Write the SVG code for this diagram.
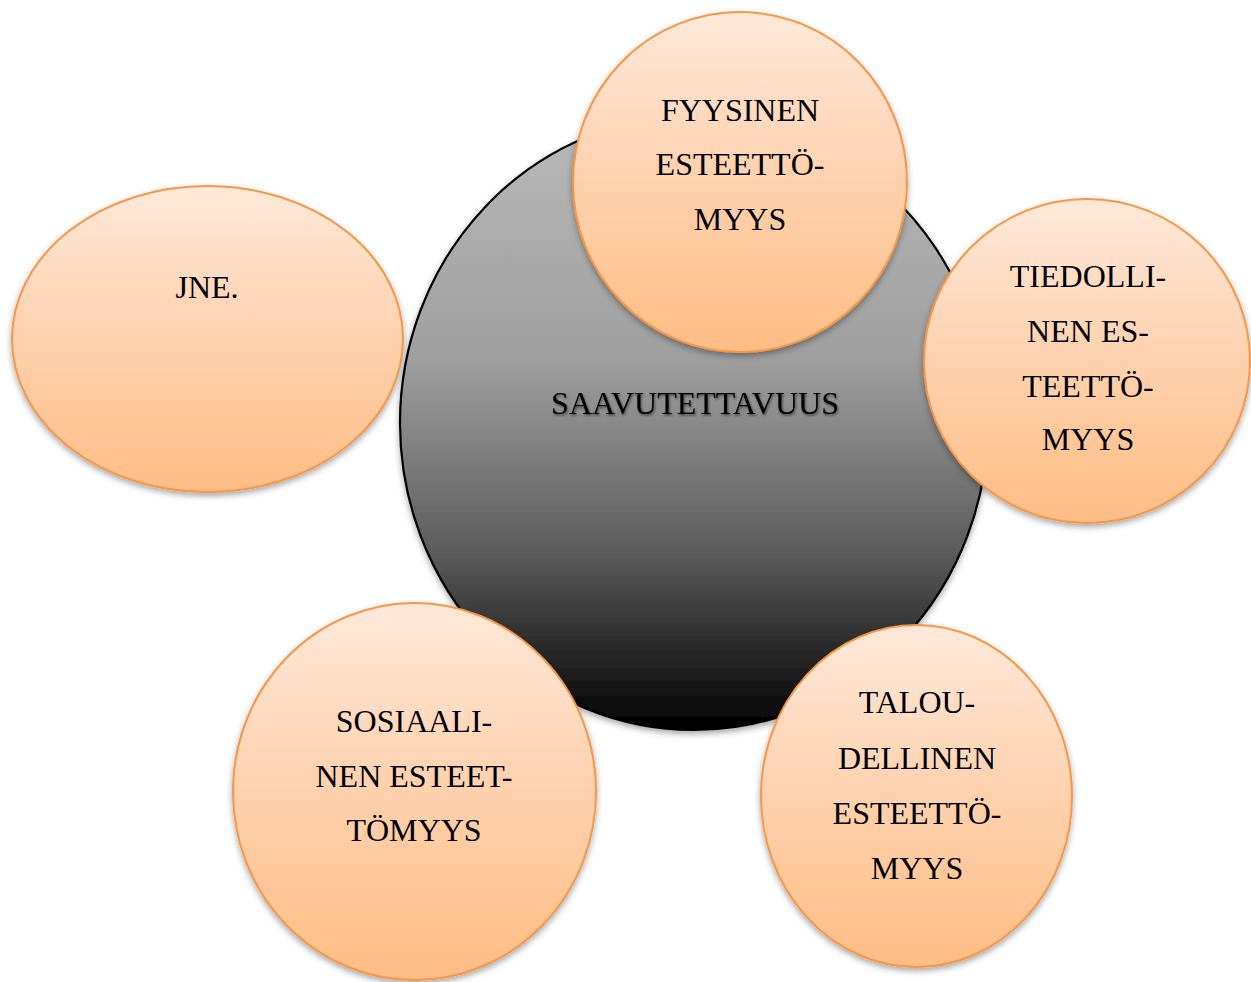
<svg xmlns="http://www.w3.org/2000/svg" width="1251" height="982" viewBox="0 0 1251 982">
  <defs>
    <linearGradient id="gDark" x1="0" y1="0" x2="0" y2="1">
      <stop offset="0" stop-color="#bababa"/>
      <stop offset="0.4" stop-color="#9e9e9e"/>
      <stop offset="0.7" stop-color="#5e5e5e"/>
      <stop offset="1" stop-color="#000000"/>
    </linearGradient>
    <linearGradient id="gOrange" x1="0" y1="0" x2="0" y2="1">
      <stop offset="0" stop-color="#ffe9da"/>
      <stop offset="0.45" stop-color="#fed3b2"/>
      <stop offset="1" stop-color="#ffbd85"/>
    </linearGradient>
    <filter id="shadow" x="-10%" y="-10%" width="120%" height="125%">
      <feDropShadow dx="0" dy="3" stdDeviation="3" flood-color="#000" flood-opacity="0.35"/>
    </filter>
    <filter id="txtShadow" x="-5%" y="-30%" width="110%" height="160%">
      <feDropShadow dx="1" dy="1.5" stdDeviation="1.2" flood-color="#000" flood-opacity="0.55"/>
    </filter>
  </defs>
  <style>
    .orange { fill: url(#gOrange); stroke: #f79646; stroke-width: 2; filter: url(#shadow); }
    .dark { fill: url(#gDark); stroke: #000; stroke-width: 2.2; filter: url(#shadow); }
    .lbl { font-family: 'Liberation Serif', 'DejaVu Serif', serif; font-size: 32px; fill: #000; text-anchor: middle; }
    .center { filter: url(#txtShadow); }
  </style>
  <rect width="1251" height="982" fill="#ffffff"/>
  <g id="connectors"></g>
  <g id="saavutettavuus">
    <ellipse class="dark" cx="694" cy="423" rx="294" ry="307"/>
    <text class="lbl center" x="695" y="414" font-family="Liberation Serif, DejaVu Serif, serif">SAAVUTETTAVUUS</text>
  </g>
  <g id="jne">
    <ellipse class="orange" cx="207.5" cy="339" rx="195.5" ry="153"/>
    <text class="lbl" x="207" y="298">JNE.</text>
  </g>
  <g id="fyysinen">
    <ellipse class="orange" cx="740" cy="182" rx="167" ry="170"/>
    <text class="lbl" x="740" y="121">FYYSINEN</text>
    <text class="lbl" x="740" y="175">ESTEETTÖ-</text>
    <text class="lbl" x="740" y="230">MYYS</text>
  </g>
  <g id="tiedollinen">
    <ellipse class="orange" cx="1087" cy="361" rx="163" ry="162"/>
    <text class="lbl" x="1088" y="287">TIEDOLLI-</text>
    <text class="lbl" x="1088" y="342">NEN ES-</text>
    <text class="lbl" x="1088" y="397">TEETTÖ-</text>
    <text class="lbl" x="1088" y="450">MYYS</text>
  </g>
  <g id="sosiaalinen">
    <ellipse class="orange" cx="414.5" cy="791.5" rx="181.5" ry="188.5"/>
    <text class="lbl" x="414" y="732">SOSIAALI-</text>
    <text class="lbl" x="414" y="787">NEN ESTEET-</text>
    <text class="lbl" x="414" y="841">TÖMYYS</text>
  </g>
  <g id="taloudellinen">
    <ellipse class="orange" cx="916.5" cy="796" rx="155.5" ry="171"/>
    <text class="lbl" x="917" y="713">TALOU-</text>
    <text class="lbl" x="917" y="769">DELLINEN</text>
    <text class="lbl" x="917" y="824">ESTEETTÖ-</text>
    <text class="lbl" x="917" y="879">MYYS</text>
  </g>
</svg>
